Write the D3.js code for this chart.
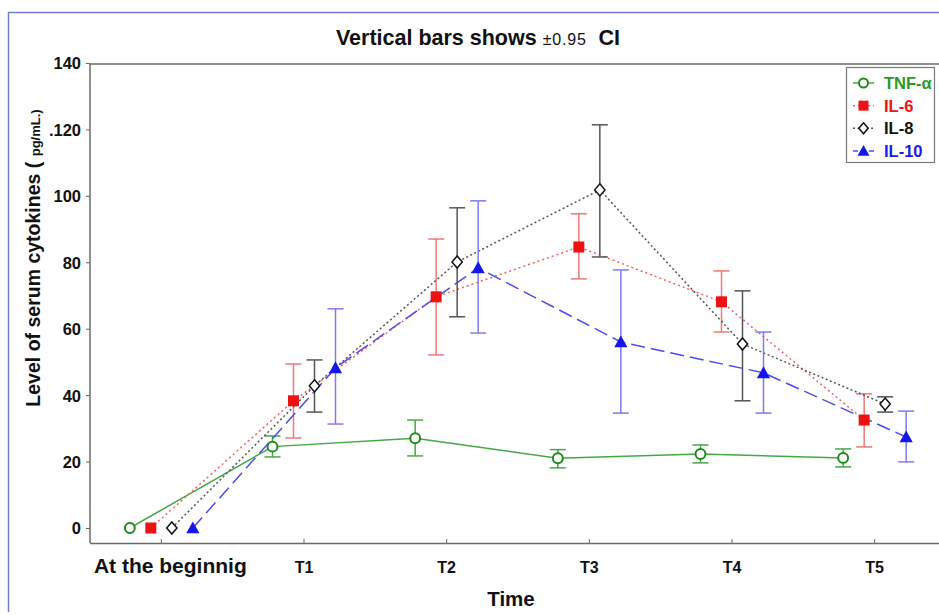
<!DOCTYPE html>
<html>
<head>
<meta charset="utf-8">
<script src="https://cdn.jsdelivr.net/npm/d3@7"></script>
<style>
html,body{margin:0;padding:0;background:#fff;}
svg{display:block;font-family:Arial,"Liberation Sans",sans-serif;}
</style>
</head>
<body>
<svg id="chart" width="939" height="615"></svg>
<script>
// ---- data ----
const categories = ["At the beginnig", "T1", "T2", "T3", "T4", "T5"];
const seriesNames = ["TNF-α", "IL-6", "IL-8", "IL-10"];
const tnfMean = [0, 24.5, 27.0, 21.0, 22.3, 21.1];
const tnfLow  = [0, 21.4, 21.7, 18.1, 19.6, 18.4];
const tnfHigh = [0, 27.7, 32.5, 23.6, 25.0, 23.8];
const il6Mean = [0, 38.3, 69.6, 84.6, 68.1, 32.5];
const il6Low  = [0, 27.1, 52.1, 75.0, 59.0, 24.4];
const il6High = [0, 49.4, 87.0, 94.6, 77.4, 40.4];
const il8Mean = [0, 42.8, 80.1, 101.8, 55.4, 37.3];
const il8Low  = [0, 34.9, 63.6, 81.6, 38.3, 34.9];
const il8High = [0, 50.6, 96.4, 121.4, 71.4, 39.5];
const il10Mean = [0, 48.2, 78.3, 56.0, 46.7, 27.4];
const il10Low  = [0, 31.3, 58.7, 34.6, 34.6, 19.9];
const il10High = [0, 66.0, 98.5, 77.7, 59.0, 35.2];
const yTicks = [0, 20, 40, 60, 80, 100, 120, 140];
const yTickLabels = ["0", "20", "40", "60", "80", "100", ".120", "140"];

// ---- styles ----
const styles = {
  "TNF-α": {line:"#45a845", dash:null, err:"#45a845", mark:"circle", fill:"#fff", stroke:"#1e8a1e", text:"#2a9a2a"},
  "IL-6":  {line:"#f06060", dash:"2,3", err:"#f07878", mark:"square", fill:"#ee1111", stroke:"#ee1111", text:"#ee1111"},
  "IL-8":  {line:"#555555", dash:"2,2.5", err:"#555555", mark:"diamond", fill:"#fff", stroke:"#111", text:"#111"},
  "IL-10": {line:"#4c4cee", dash:"14,6", err:"#7b7bf2", mark:"triangle", fill:"#1515ee", stroke:"#1515ee", text:"#1a1aee"}
};

const series = [
  {name:"TNF-α", mean:tnfMean, lo:tnfLow, hi:tnfHigh},
  {name:"IL-6", mean:il6Mean, lo:il6Low, hi:il6High},
  {name:"IL-8", mean:il8Mean, lo:il8Low, hi:il8High},
  {name:"IL-10", mean:il10Mean, lo:il10Low, hi:il10High}
];

const svg = d3.select("#chart");
const plotLeft = 90, plotTop = 64, plotBottom = 543, plotRightEnd = 946;
const FONT = "Arial, 'Liberation Sans', sans-serif";

// outer blue border
svg.append("line").attr("x1",8.5).attr("x2",8.5).attr("y1",12).attr("y2",612).attr("stroke","#6f80c8").attr("stroke-width",1.5);
svg.append("line").attr("x1",8).attr("x2",939).attr("y1",12.5).attr("y2",12.5).attr("stroke","#6f80c8").attr("stroke-width",1.5);

const x = d3.scaleBand().domain(categories).range([plotLeft, plotRightEnd]);
const off = d3.scalePoint().domain(seriesNames).range([-31.5, 31.5]);
const y = d3.scaleLinear().domain([0, 140]).range([528, 63]);

// frame
svg.append("path")
  .attr("d", `M${plotLeft},${plotBottom}V${plotTop}H939`)
  .attr("fill","none").attr("stroke","#6a6a6a").attr("stroke-width",1.5);

// y axis
const yAxis = d3.axisLeft(y).tickValues(yTicks).tickSize(4).tickPadding(5)
  .tickFormat((d,i) => yTickLabels[i]);
const gy = svg.append("g").attr("transform",`translate(${plotLeft},0)`).call(yAxis);
gy.select(".domain").remove();
gy.selectAll(".tick line").attr("stroke","#666");
gy.selectAll(".tick text").attr("font-size",16.5).attr("font-weight","bold").attr("fill","#111")
  .attr("font-family",FONT).attr("dy","0.36em");

// x axis
const xAxis = d3.axisBottom(x).tickSize(-4).tickPadding(0);
const gx = svg.append("g").attr("transform",`translate(0,${plotBottom})`).call(xAxis);
gx.select(".domain").attr("d",`M${plotLeft},0.5H939`).attr("stroke","#6a6a6a").attr("stroke-width",1.5);
gx.selectAll(".tick line").attr("stroke","#666");
gx.selectAll(".tick text")
  .attr("font-family",FONT)
  .attr("font-weight","bold").attr("fill","#111")
  .attr("font-size", (d,i) => i===0 ? 21 : 16)
  .attr("dy", null)
  .attr("y", (d,i) => i===0 ? 30 : 30)
  .attr("dx", (d,i) => i===0 ? 9 : 0);

// title
const title = svg.append("text").attr("x",478).attr("y",45).attr("text-anchor","middle").attr("fill","#111");
title.append("tspan").attr("font-weight","bold").attr("font-size",21.5).text("Vertical bars shows ");
title.append("tspan").attr("font-size",16).attr("letter-spacing",0.8).text("±0.95");
title.append("tspan").attr("font-weight","bold").attr("font-size",21.5).attr("dx",6).text(" CI");

// y label
const yl = svg.append("text").attr("transform","translate(40,258) rotate(-90)").attr("text-anchor","middle").attr("fill","#111");
yl.append("tspan").attr("font-weight","bold").attr("font-size",19.5).text("Level of serum cytokines ( ");
yl.append("tspan").attr("font-size",13).attr("font-weight","bold").text("pg/mL.)");

// x label
svg.append("text").attr("x",511).attr("y",606).attr("text-anchor","middle")
  .attr("font-weight","bold").attr("font-size",20.5).attr("fill","#111").text("Time");

// markers
function marker(g, type, st, size) {
  if (type === "circle") {
    g.append("circle").attr("r", size*0.45).attr("fill", st.fill).attr("stroke", st.stroke).attr("stroke-width",2);
  } else if (type === "square") {
    g.append("rect").attr("x",-size/2).attr("y",-size/2).attr("width",size).attr("height",size).attr("fill",st.fill);
  } else if (type === "diamond") {
    const s = size*0.55;
    g.append("path").attr("d",`M0,${-s}L${s*0.85},0L0,${s}L${-s*0.85},0Z`).attr("fill",st.fill).attr("stroke",st.stroke).attr("stroke-width",1.5);
  } else if (type === "triangle") {
    const s = size*0.6;
    g.append("path").attr("d",`M0,${-s}L${s},${s*0.8}L${-s},${s*0.8}Z`).attr("fill",st.fill);
  }
}

const px = (s, i) => x(categories[i]) + x.bandwidth()/2 + off(s.name);

series.forEach(s => {
  const st = styles[s.name];
  const g = svg.append("g");
  s.mean.forEach((m, i) => {
    if (s.hi[i] === s.lo[i]) return;
    const cx = px(s, i);
    g.append("line").attr("x1",cx).attr("x2",cx).attr("y1",y(s.lo[i])).attr("y2",y(s.hi[i])).attr("stroke",st.err).attr("stroke-width",1.5);
    [s.lo[i], s.hi[i]].forEach(v => {
      g.append("line").attr("x1",cx-8).attr("x2",cx+8).attr("y1",y(v)).attr("y2",y(v)).attr("stroke",st.err).attr("stroke-width",1.5);
    });
  });
  const line = d3.line().x((d,i) => px(s,i)).y(d => y(d));
  g.append("path").datum(s.mean).attr("d", line).attr("fill","none")
    .attr("stroke", st.line).attr("stroke-width",1.5).attr("stroke-dasharray", st.dash);
});
series.forEach(s => {
  const st = styles[s.name];
  s.mean.forEach((m,i) => {
    const g = svg.append("g").attr("transform",`translate(${px(s,i)},${y(m)})`);
    marker(g, st.mark, st, 11);
  });
});

// legend
const lg = svg.append("g");
lg.append("rect").attr("x",846.5).attr("y",67.5).attr("width",88).attr("height",95)
  .attr("fill","#fff").attr("stroke","#777").attr("stroke-width",1.2);
const ly = d3.scalePoint().domain(seriesNames).range([83, 151]);
series.forEach(s => {
  const st = styles[s.name];
  const yy = ly(s.name);
  lg.append("line").attr("x1",853).attr("x2",874).attr("y1",yy).attr("y2",yy)
    .attr("stroke",st.line).attr("stroke-width",1.5).attr("stroke-dasharray", s.name==="IL-10" ? "5,3" : st.dash);
  const g = lg.append("g").attr("transform",`translate(863.5,${yy})`);
  marker(g, st.mark, st, 10);
  lg.append("text").attr("x",884).attr("y",yy+6).attr("font-size",16.5).attr("font-weight","bold")
    .attr("font-family",FONT).attr("fill",st.text).text(s.name);
});
</script>
</body>
</html>
